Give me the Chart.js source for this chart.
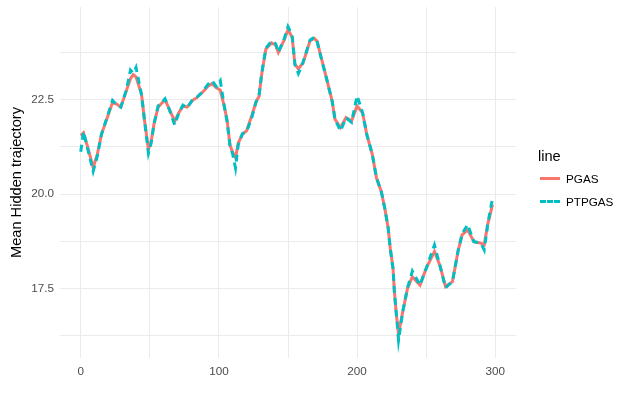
<!DOCTYPE html>
<html>
<head>
<meta charset="utf-8">
<script src="https://cdn.jsdelivr.net/npm/chart.js@4"></script>
<style>
  html, body { margin: 0; padding: 0; background: #fff; }
  #wrap { position: relative; width: 627px; height: 400px; }
  #legend { position: absolute; left: 538px; top: 146px; font-family: "Liberation Sans", Arial, sans-serif; }
  #legend .title { font-size: 14.6px; color: #000; height: 21px; line-height: 21px; }
  #legend .item { height: 23px; display: flex; align-items: center; font-size: 11.7px; color: #000; }
  #legend .key { width: 20px; height: 0; margin: 0 6px 0 2px; }
</style>
</head>
<body>
<div id="wrap">
  <canvas id="hidden-chart" width="627" height="400"></canvas>
  <div id="legend"></div>
</div>
<script>
  // Trục hoành (thời điểm) và giá trị trung bình của hai chuỗi
  const steps = [0, 2, 5, 9, 12, 15, 19, 23, 26, 29, 33, 36, 38, 40, 44, 46, 49, 51, 53, 56,
    61, 64, 68, 71, 74, 77, 81, 84, 88, 92, 95, 98, 101, 104, 106, 108, 110, 112, 114, 117,
    120, 124, 127, 129, 131, 134, 138, 141, 143, 147, 150, 153, 155, 157.5, 161, 166, 169, 171, 174, 178,
    182, 184, 188, 192, 196, 200, 204, 207, 211, 214, 217.5, 220, 222.5, 224, 226, 227, 228.5, 230, 233, 236.5,
    240, 245.5, 250, 256, 260, 264, 269, 273, 276, 280, 284.5, 289.5, 292, 294.5, 298];

  const pgas = [21.55, 21.62, 21.25, 20.7, 21.05, 21.58, 22.0, 22.42, 22.38, 22.3, 22.73, 23.05, 23.16, 23.1, 22.64, 22.0, 21.18, 21.4, 21.85, 22.3,
    22.5, 22.25, 21.93, 22.15, 22.33, 22.3, 22.48, 22.55, 22.69, 22.85, 22.92, 22.82, 22.75, 22.3, 21.93, 21.3, 21.1, 20.96, 21.35, 21.58,
    21.67, 22.1, 22.45, 22.58, 23.18, 23.84, 24.0, 23.95, 23.75, 24.06, 24.35, 24.15, 23.44, 23.31, 23.48, 24.06, 24.12, 24.05, 23.62, 23.04,
    22.45, 21.98, 21.76, 22.02, 21.93, 22.33, 22.15, 21.58, 21.05, 20.43, 20.07, 19.63, 19.1, 18.56, 18.03, 17.41, 16.79, 16.3, 16.88, 17.5,
    17.81, 17.59, 18.03, 18.48, 18.1, 17.55, 17.68, 18.48, 18.92, 19.05, 18.74, 18.7, 18.65, 19.19, 19.72];

  const ptpgas = [21.12, 21.65, 21.2, 20.6, 21.0, 21.58, 22.02, 22.48, 22.36, 22.3, 22.75, 23.28, 23.2, 23.35, 22.62, 22.0, 21.08, 21.35, 21.85, 22.33,
    22.52, 22.25, 21.83, 22.15, 22.35, 22.28, 22.5, 22.56, 22.7, 22.9, 23.0, 22.85, 23.0, 22.3, 21.9, 21.28, 21.05, 20.69, 21.3, 21.6,
    21.65, 22.05, 22.45, 22.6, 23.2, 23.86, 24.05, 23.98, 23.75, 24.08, 24.43, 24.2, 23.42, 23.19, 23.5, 24.08, 24.15, 24.05, 23.6, 23.04,
    22.45, 21.98, 21.67, 22.02, 21.9, 22.6, 22.15, 21.58, 21.05, 20.43, 20.07, 19.63, 19.1, 18.56, 18.03, 17.41, 16.79, 16.13, 16.88, 17.52,
    17.96, 17.59, 18.03, 18.65, 18.1, 17.52, 17.68, 18.48, 18.95, 19.19, 18.74, 18.7, 18.52, 19.19, 19.89];

  // Vạch chia trục (lưới chính có nhãn, lưới phụ không nhãn)
  const xTicks = [0, 50, 100, 150, 200, 250, 300];
  const xLabels = [0, 100, 200, 300];
  const yTicks = [16.25, 17.5, 18.75, 20, 21.25, 22.5, 23.75];
  const yLabels = [17.5, 20, 22.5];

  const seriesNames = ['PGAS', 'PTPGAS'];
  const colors = ['#F8766D', '#00BFC4'];

  const font = 'Liberation Sans, Arial, sans-serif';

  new Chart(document.getElementById('hidden-chart'), {
    type: 'line',
    data: {
      datasets: [
        {
          label: seriesNames[0],
          data: steps.map((x, i) => ({ x: x, y: pgas[i] })),
          borderColor: colors[0],
          borderWidth: 3,
          pointRadius: 0,
          fill: false,
          tension: 0,
          order: 1
        },
        {
          label: seriesNames[1],
          data: steps.map((x, i) => ({ x: x, y: ptpgas[i] })),
          borderColor: colors[1],
          borderWidth: 3,
          borderDash: [7, 5],
          pointRadius: 0,
          fill: false,
          tension: 0,
          order: 0
        }
      ]
    },
    options: {
      responsive: false,
      animation: false,
      layout: { padding: { top: 7, right: 111, left: 0, bottom: 0 } },
      plugins: {
        legend: { display: false },
        tooltip: { enabled: false }
      },
      scales: {
        x: {
          type: 'linear',
          min: -15,
          max: 315,
          afterBuildTicks: s => { s.ticks = xTicks.map(v => ({ value: v })); },
          afterFit: s => { s.height = 42; },
          border: { display: false },
          grid: { color: '#ebebeb', lineWidth: 1, drawTicks: false },
          ticks: {
            padding: 7,
            color: '#4d4d4d',
            font: { family: font, size: 11.7 },
            maxRotation: 0,
            callback: v => xLabels.includes(v) ? String(v) : ''
          }
        },
        y: {
          type: 'linear',
          min: 15.66,
          max: 24.95,
          afterBuildTicks: s => { s.ticks = yTicks.map(v => ({ value: v })); },
          afterFit: s => { s.width = 60; s.paddingTop = 0; s.paddingBottom = 0; },
          border: { display: false },
          grid: { color: '#ebebeb', lineWidth: 1, drawTicks: false },
          ticks: {
            padding: 6,
            color: '#4d4d4d',
            font: { family: font, size: 11.7 },
            callback: v => yLabels.includes(v) ? v.toFixed(1) : ''
          },
          title: {
            display: true,
            text: 'Mean Hidden trajectory',
            color: '#000',
            font: { family: font, size: 14.6 },
            padding: { top: 8, bottom: 0 }
          }
        }
      }
    }
  });

  // Chú giải kiểu ggplot bên phải
  const legend = document.getElementById('legend');
  legend.innerHTML = '<div class="title">line</div>' + seriesNames.map((name, i) =>
    '<div class="item"><span class="key" style="border-top: 3px ' + (i === 1 ? 'dashed' : 'solid') +
    ' ' + colors[i] + '"></span>' + name + '</div>').join('');
</script>
</body>
</html>
